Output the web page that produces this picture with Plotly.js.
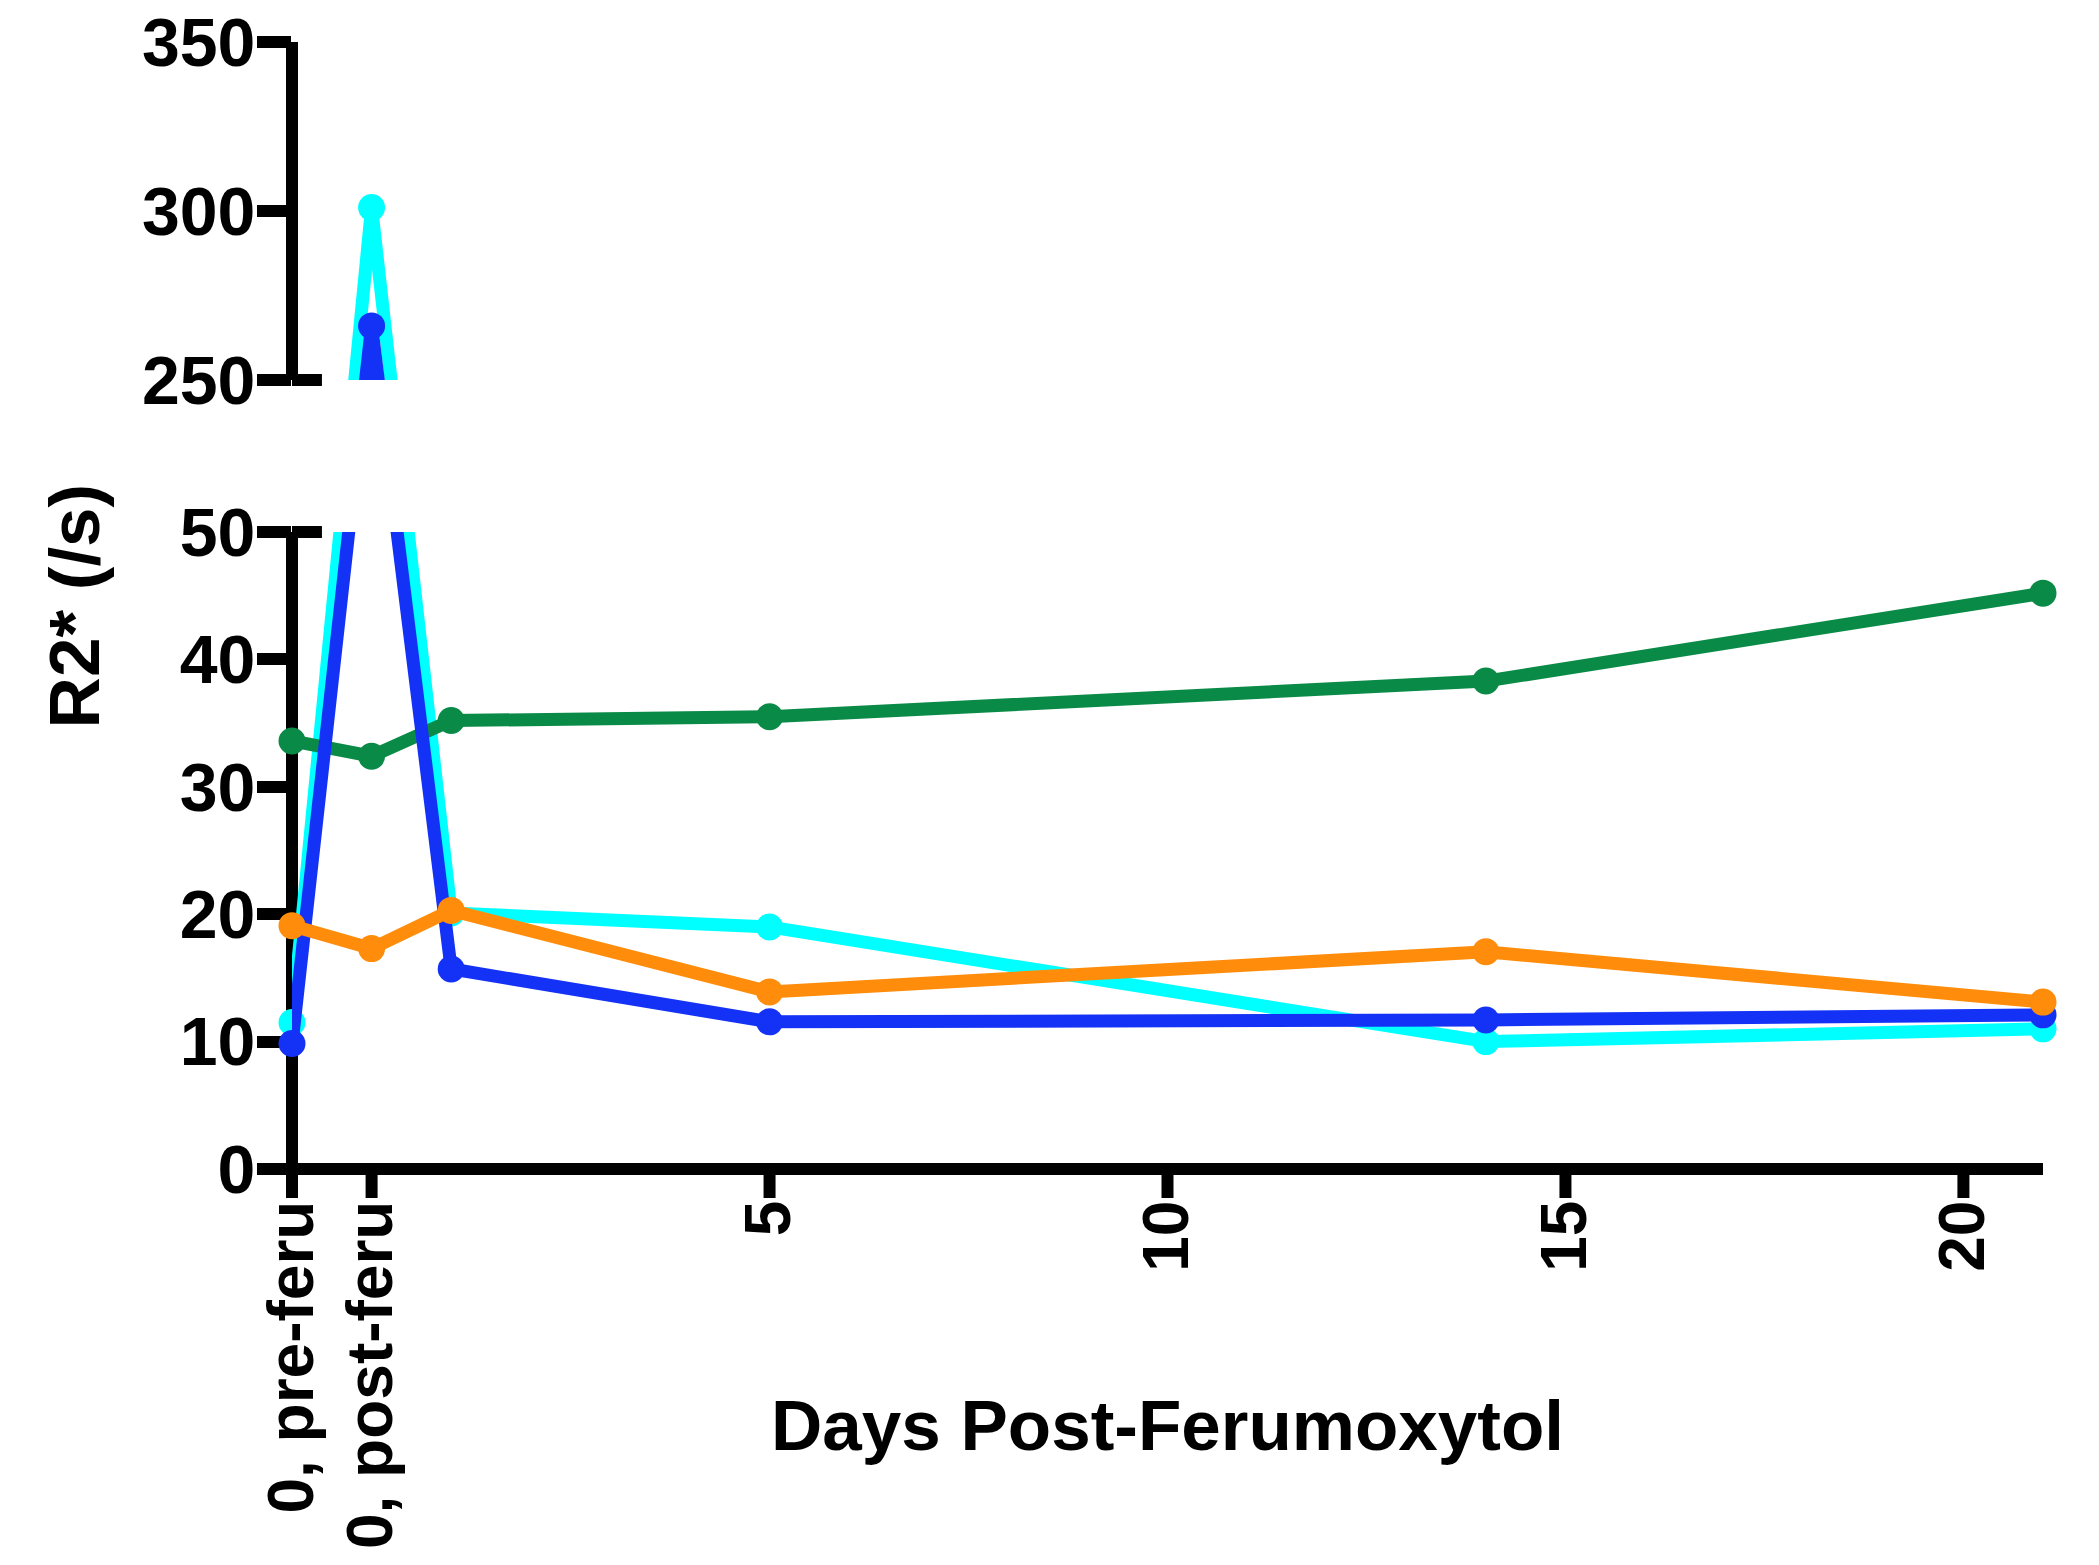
<!DOCTYPE html>
<html>
<head>
<meta charset="utf-8">
<script src="https://cdn.plot.ly/plotly-3.0.1.min.js"></script>
<style>html,body{margin:0;padding:0;background:#fff;}#chart{width:2099px;height:1565px;}</style>
</head>
<body>
<div id="chart"></div>
<script>
// ---- data ----
const days = [-1, 0, 1, 5, 14, 21];
const xTickVals = [-1, 0, 5, 10, 15, 20];
const xTickText = ['0, pre-feru', '0, post-feru', '5', '10', '15', '20'];
const lowTicks = [0, 10, 20, 30, 40, 50];
const highTicks = [250, 300, 350];
const cyanR2 = [11.5, 301, 20.1, 19.0, 10.0, 11.0];
const greenR2 = [33.6, 32.4, 35.2, 35.5, 38.3, 45.2];
const blueR2 = [9.85, 266, 15.7, 11.55, 11.7, 12.1];
const orangeR2 = [19.1, 17.3, 20.3, 13.9, 17.05, 13.1];

const seriesList = [
  {name: 'cyan', y: cyanR2, color: '#00FFFF'},
  {name: 'green', y: greenR2, color: '#0A8A47'},
  {name: 'blue', y: blueR2, color: '#1432F5'},
  {name: 'orange', y: orangeR2, color: '#FF8C0A'}
];

const xRange = [-1, 21];
const lowRange = [0, 50];
const highRange = [250, 350];
const lowDomain = [0, 0.5652];
const highDomain = [0.7001, 1];
const FONT = 'Liberation Sans, Arial, Helvetica, sans-serif';
const LW = 12;

// position (fraction of plot height) of a value on the broken axis
function frac(v) {
  if (v <= lowRange[1]) {
    return lowDomain[0] + (v - lowRange[0]) / (lowRange[1] - lowRange[0]) * (lowDomain[1] - lowDomain[0]);
  }
  return highDomain[0] + (v - highRange[0]) / (highRange[1] - highRange[0]) * (highDomain[1] - highDomain[0]);
}
// express that position in the coordinate system of one panel, so lines stay straight across the break
function inPanel(v, rng, dom) {
  return rng[0] + (frac(v) - dom[0]) / (dom[1] - dom[0]) * (rng[1] - rng[0]);
}

const traces = [];
[['y', lowRange, lowDomain], ['y2', highRange, highDomain]].forEach(([yax, rng, dom]) => {
  seriesList.forEach(s => {
    traces.push({
      x: days, y: s.y.map(v => inPanel(v, rng, dom)), yaxis: yax, xaxis: 'x', type: 'scatter', mode: 'lines',
      line: {color: s.color, width: 13}, name: s.name, showlegend: false, hoverinfo: 'skip'
    });
    traces.push({
      x: days, y: s.y.map(v => (v >= rng[0] && v <= rng[1]) ? v : null),
      yaxis: yax, xaxis: 'x', type: 'scatter', mode: 'markers', cliponaxis: false,
      marker: {color: s.color, size: 27}, name: s.name, showlegend: false, hoverinfo: 'skip'
    });
  });
});

const yCommon = {
  showline: false, showgrid: false, zeroline: false, ticks: 'outside', ticklen: 34,
  tickwidth: LW, tickcolor: '#000', tickfont: {family: FONT, size: 68, color: '#000', weight: 700},
  layer: 'below traces', fixedrange: true, ticklabelstandoff: -12
};

const shapes = [
  // axis lines
  {type: 'line', layer: 'below', xref: 'paper', yref: 'y domain', x0: 0, x1: 0, y0: 0, y1: 1, line: {color: '#000', width: LW}},
  {type: 'line', layer: 'below', xref: 'paper', yref: 'y2 domain', x0: 0, x1: 0, y0: 0, y1: 1, line: {color: '#000', width: LW}},
  {type: 'line', layer: 'below', xref: 'paper', yref: 'y domain', x0: 0, x1: 1, y0: 0, y1: 0, line: {color: '#000', width: LW}},
  // axis-break tick marks
  {type: 'line', layer: 'below', xref: 'paper', yref: 'y domain', x0: 0, x1: 0.0171, y0: 1, y1: 1, line: {color: '#000', width: LW}},
  {type: 'line', layer: 'below', xref: 'paper', yref: 'y2 domain', x0: 0, x1: 0.0171, y0: 0, y1: 0, line: {color: '#000', width: LW}}
];
// x tick marks (placed on the x scale of the axis)
xTickVals.forEach(v => {
  const fx = (v - xRange[0]) / (xRange[1] - xRange[0]);
  shapes.push({type: 'line', layer: 'below', xref: 'paper', yref: 'paper', ysizemode: 'pixel', yanchor: 0,
    x0: fx, x1: fx, y0: 0, y1: -29, line: {color: '#000', width: LW}});
});

const layout = {
  width: 2099, height: 1565,
  margin: {l: 292, r: 56, t: 42, b: 396, pad: 0},
  paper_bgcolor: '#fff', plot_bgcolor: 'rgba(0,0,0,0)',
  showlegend: false, hovermode: false,
  xaxis: {
    domain: [0, 1], range: xRange, anchor: 'y', showline: false, showgrid: false, zeroline: false,
    tickmode: 'array', tickvals: xTickVals, ticktext: xTickText, tickangle: -90,
    ticks: 'outside', ticklen: 5, tickwidth: LW, tickcolor: 'rgba(0,0,0,0)',
    tickfont: {family: FONT, size: 64, color: '#000', weight: 700},
    layer: 'below traces', fixedrange: true
  },
  yaxis: Object.assign({}, yCommon, {domain: lowDomain, range: lowRange, tickmode: 'array', tickvals: lowTicks, anchor: 'x'}),
  yaxis2: Object.assign({}, yCommon, {domain: highDomain, range: highRange, tickmode: 'array', tickvals: highTicks, anchor: 'x'}),
  shapes: shapes,
  annotations: [
    {text: 'R2* (/s)', xref: 'paper', yref: 'paper', x: -0.124, y: 0.5, textangle: -90, showarrow: false,
     xanchor: 'center', yanchor: 'middle', font: {family: FONT, size: 71, color: '#000', weight: 700}},
    {text: 'Days Post-Ferumoxytol', xref: 'paper', yref: 'paper', x: 0.5, y: -0.228, showarrow: false,
     xanchor: 'center', yanchor: 'middle', font: {family: FONT, size: 71, color: '#000', weight: 700}}
  ]
};

Plotly.newPlot('chart', traces, layout, {staticPlot: true, displayModeBar: false});
</script>
</body>
</html>
